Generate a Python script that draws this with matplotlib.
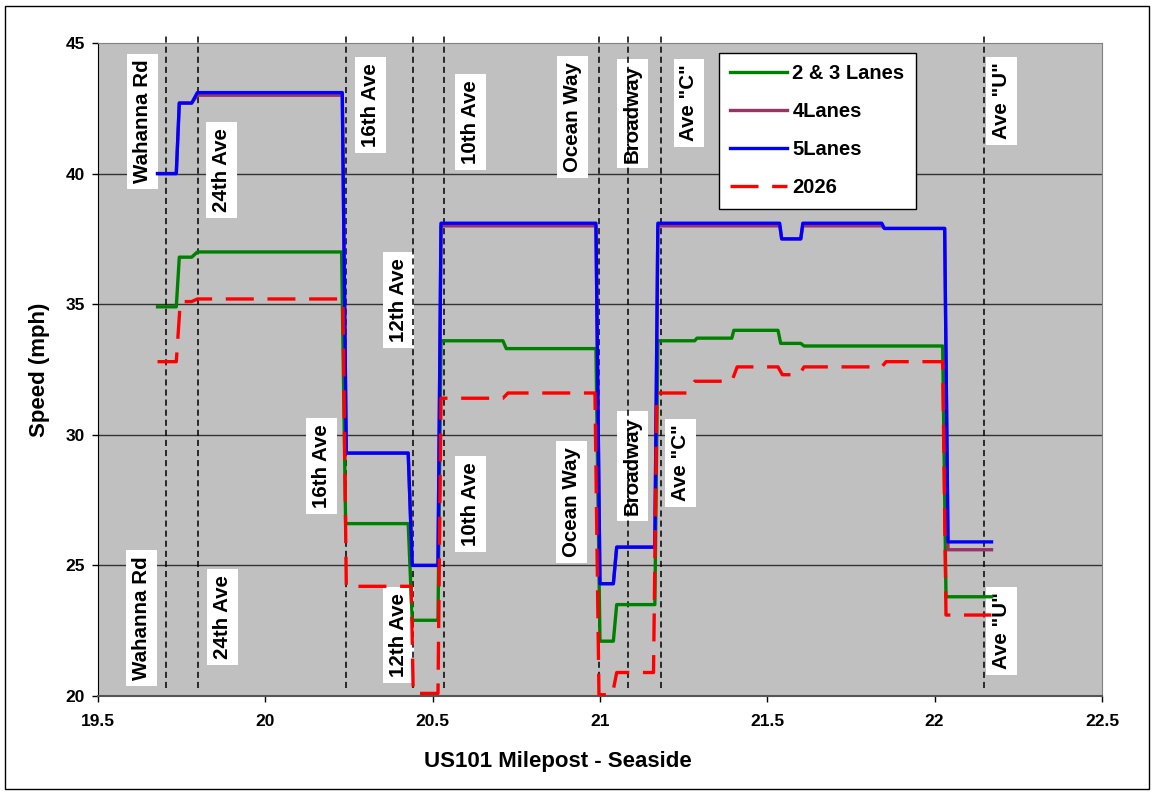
import matplotlib.pyplot as plt
import matplotlib.patches as patches

plt.rcParams['font.family'] = ['Liberation Sans', 'DejaVu Sans']
plt.rcParams['font.weight'] = 'bold'

# Speed profiles along US101 (milepost, mph)
mp_5lanes = [19.678, 19.734, 19.743, 19.78, 19.797, 20.23, 20.242, 20.427, 20.439, 20.516, 20.525,
             20.988, 21.0, 21.04, 21.05, 21.164, 21.173, 21.537, 21.543, 21.60, 21.606, 21.842,
             21.85, 22.03, 22.04, 22.17]
speed_5lanes = [40, 40, 42.7, 42.7, 43.1, 43.1, 29.3, 29.3, 25.0, 25.0, 38.1,
                38.1, 24.3, 24.3, 25.7, 25.7, 38.1, 38.1, 37.5, 37.5, 38.1, 38.1,
                37.9, 37.9, 25.9, 25.9]
speed_4lanes = [40, 40, 42.7, 42.7, 43.0, 43.0, 29.3, 29.3, 25.0, 25.0, 38.0,
                38.0, 24.3, 24.3, 25.7, 25.7, 38.0, 38.0, 37.5, 37.5, 38.0, 38.0,
                37.9, 37.9, 25.6, 25.6]

mp_23lanes = [19.678, 19.734, 19.743, 19.78, 19.797, 20.228, 20.24, 20.427, 20.439, 20.516, 20.525,
              20.71, 20.72, 20.988, 21.0, 21.04, 21.05, 21.164, 21.173, 21.283, 21.29, 21.394,
              21.40, 21.532, 21.54, 21.60, 21.61, 22.024, 22.034, 22.17]
speed_23lanes = [34.9, 34.9, 36.8, 36.8, 37.0, 37.0, 26.6, 26.6, 22.9, 22.9, 33.6,
                 33.6, 33.3, 33.3, 22.1, 22.1, 23.5, 23.5, 33.6, 33.6, 33.7, 33.7,
                 34.0, 34.0, 33.5, 33.5, 33.4, 33.4, 23.8, 23.8]

mp_2026 = [19.678, 19.734, 19.746, 19.78, 19.797, 20.232, 20.242, 20.436, 20.442, 20.516, 20.525,
           20.71, 20.725, 20.985, 20.997, 21.037, 21.05, 21.16, 21.17, 21.26, 21.283, 21.394,
           21.41, 21.532, 21.545, 21.595, 21.61, 21.842, 21.855, 22.024, 22.034, 22.17]
speed_2026 = [32.8, 32.8, 35.1, 35.1, 35.2, 35.2, 24.2, 24.2, 20.1, 20.1, 31.4,
              31.4, 31.6, 31.6, 20.05, 20.05, 20.9, 20.9, 31.6, 31.6, 32.05, 32.05,
              32.6, 32.6, 32.3, 32.3, 32.6, 32.6, 32.8, 32.8, 23.1, 23.1]

# Cross streets
street_names = ['Wahanna Rd', '24th Ave', '16th Ave', '12th Ave', '10th Ave',
                'Ocean Way', 'Broadway', 'Ave "C"', 'Ave "U"']
street_mp = [19.704, 19.80, 20.242, 20.442, 20.535, 20.997, 21.084, 21.183, 22.149]

# label positions (x, y) for the upper and lower label rows
top_pos = [(19.633, 42.0), (19.87, 40.14), (20.313, 42.63), (20.397, 35.16), (20.612, 41.97),
           (20.919, 42.17), (21.096, 42.3), (21.266, 42.7), (22.2, 42.78)]
bottom_pos = [(19.631, 22.99), (19.872, 23.02), (20.167, 28.8), (20.397, 22.34), (20.612, 27.35),
              (20.915, 27.43), (21.096, 28.8), (21.242, 28.92), (22.2, 22.49)]

x_ticks = [19.5, 20, 20.5, 21, 21.5, 22, 22.5]
x_tick_labels = ['19.5', '20', '20.5', '21', '21.5', '22', '22.5']
y_ticks = [20, 25, 30, 35, 40, 45]
y_tick_labels = ['20', '25', '30', '35', '40', '45']

fig = plt.figure(figsize=(11.54, 7.93), dpi=100)
ax = fig.add_axes([0.0849, 0.1223, 0.870, 0.8235])
ax.set_facecolor('#C0C0C0')

# border around the whole chart
fig.patches.append(patches.Rectangle((5 / 1154, 4 / 793), 1144 / 1154, 783 / 793,
                                     transform=fig.transFigure, fill=False,
                                     edgecolor='black', linewidth=1.0))

for y in [25, 30, 35, 40]:
    ax.axhline(y, color='#333333', linewidth=1.0, zorder=1)

# street labels
for name, (tx, ty), (bx, by) in zip(street_names, top_pos, bottom_pos):
    for x, y in [(tx, ty), (bx, by)]:
        ax.text(x, y, name, rotation=90, ha='center', va='center', fontsize=14.8,
                fontweight='bold', zorder=3,
                bbox=dict(facecolor='white', edgecolor='none', pad=4.3))

for m in street_mp:
    ax.plot([m, m], [20.3, 45.25], color='black', linewidth=1.1,
            linestyle=(0, (4, 2.6)), clip_on=False, zorder=4)

l23, = ax.plot(mp_23lanes, speed_23lanes, color='#008000', linewidth=2.4, label='2 & 3 Lanes', zorder=5)
l4, = ax.plot(mp_5lanes, speed_4lanes, color='#993366', linewidth=2.4, label='4Lanes', zorder=6)
l5, = ax.plot(mp_5lanes, speed_5lanes, color='#0000FF', linewidth=2.4, label='5Lanes', zorder=7)
l26, = ax.plot(mp_2026, speed_2026, color='#FF0000', linewidth=2.4, linestyle=(0, (8.4, 4.1)),
               label='2026', zorder=8)

ax.set_xlim(19.5, 22.5)
ax.set_ylim(20, 45)
ax.set_xticks(x_ticks)
ax.set_xticklabels(x_tick_labels, fontweight='bold', fontsize=12.5)
ax.set_yticks(y_ticks)
ax.set_yticklabels(y_tick_labels, fontweight='bold', fontsize=12.5)
ax.tick_params(axis='x', length=4, width=1, pad=9)
ax.tick_params(axis='y', length=4.3, width=1, pad=5)

ax.spines['left'].set_color('black')
ax.spines['bottom'].set_color('#555555')
ax.spines['bottom'].set_linewidth(1.5)
ax.spines['top'].set_color('#808080')
ax.spines['right'].set_color('#808080')

ax.set_xlabel('US101 Milepost - Seaside', fontsize=16, fontweight='bold')
ax.xaxis.set_label_coords(0.458, -0.101)
ax.xaxis.label.set_va('center')
ax.set_ylabel('Speed (mph)', fontsize=16, fontweight='bold')
ax.yaxis.set_label_coords(-0.058, 0.5)
ax.yaxis.label.set_va('center')

leg = ax.legend(handles=[l23, l4, l5, l26], loc='upper left', bbox_to_anchor=(0.6185, 0.9847),
                borderaxespad=0, handlelength=2.85, handletextpad=0.25,
                labelspacing=0.95, borderpad=0.55, fancybox=False, framealpha=1,
                edgecolor='black', prop={'weight': 'bold', 'size': 14.5})
leg.get_frame().set_linewidth(1.0)
leg.set_zorder(10)

plt.savefig('out.png', dpi=100)
